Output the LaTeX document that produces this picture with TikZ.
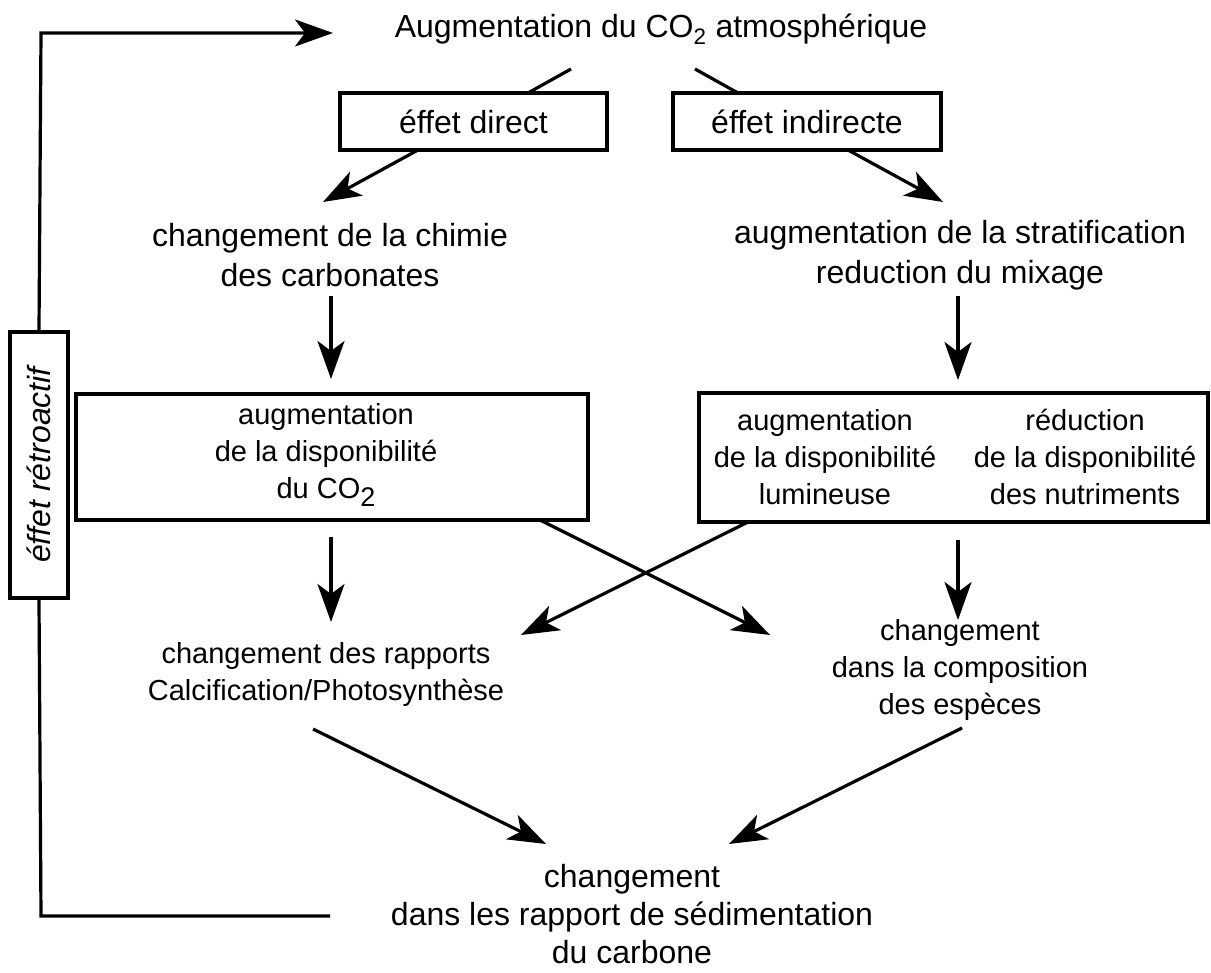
\documentclass[tikz,border=0pt]{standalone}
\usepackage{fontspec}
\setmainfont{Liberation Sans}
\usetikzlibrary{arrows.meta}
\begin{document}
\begin{tikzpicture}[x=1pt,y=-1pt,
  every node/.style={align=center, inner sep=0pt},
  big/.style={font=\fontsize{32}{40}\selectfont},
  bottomtext/.style={font=\fontsize{32}{38}\selectfont},
  small/.style={font=\fontsize{29}{37}\selectfont},
  box/.style={draw, line width=3.2pt},
  conn/.style={line width=3.2pt},
  arr/.style={conn, -{Stealth[length=38pt,width=27pt,inset=10pt]}}
]
\useasboundingbox (0,0) rectangle (1211,973);
% texts
\node[big] (top) at (661,29) {Augmentation du CO\textsubscript{2} atmosphérique};
\node[big, box, minimum width=267pt, minimum height=57pt] (ed) at (473.5,121.5) {éffet direct};
\node[big, box, minimum width=268pt, minimum height=57pt] (ei) at (807,121.5) {éffet indirecte};
\node[big] (chim) at (330,255) {changement de la chimie\\des carbonates};
\node[big] (strat) at (960,255) {augmentation de la stratification\\reduction du mixage};
\node[box, minimum width=512pt, minimum height=126pt] (lb) at (332,457) {};
\node[small] (lbt) at (326,455) {augmentation\\de la disponibilité\\du CO\raisebox{-0.3em}{\fontsize{27}{27}\selectfont 2}};
\node[box, minimum width=509pt, minimum height=129pt] (rbx) at (953.5,457.5) {};
\node[small] (lum) at (825,457) {augmentation\\de la disponibilité\\lumineuse};
\node[small] (nut) at (1085,457) {réduction\\de la disponibilité\\des nutriments};
\node[small] (cal) at (326,675) {changement des rapports\\Calcification/Photosynthèse};
\node[small] (comp) at (960,670) {changement\\dans la composition\\des espèces};
\node[bottomtext] (sed) at (632,914) {changement\\dans les rapport de sédimentation\\du carbone};
\node[big, box, minimum width=266pt, minimum height=58pt, rotate=90] (fb) at (39,465) {\itshape éffet rétroactif};
% coordinates
\coordinate (c1) at (571,69);
\coordinate (c2) at (528,93);
\coordinate (c3) at (695,69);
\coordinate (c4) at (738,93);
\coordinate (d1) at (418,150);
\coordinate (d2) at (323,202);
\coordinate (e1) at (848,150);
\coordinate (e2) at (943,202);
\coordinate (f1) at (331,296);
\coordinate (f2) at (331,379);
\coordinate (g1) at (958,296);
\coordinate (g2) at (958,380);
\coordinate (h1) at (331,537);
\coordinate (h2) at (331,622);
\coordinate (i1) at (958,540);
\coordinate (i2) at (958,620);
\coordinate (x1) at (540,520);
\coordinate (x2) at (770,635);
\coordinate (y1) at (748,522);
\coordinate (y2) at (521,635);
\coordinate (z1) at (313,729);
\coordinate (z2) at (546,844);
\coordinate (w1) at (962,728);
\coordinate (w2) at (729,844);
\coordinate (b1) at (330,916);
\coordinate (b2) at (41,916);
\coordinate (b3) at (41,33);
\coordinate (b4) at (333,33);
% connectors
\draw[conn] (c1) -- (c2);
\draw[conn] (c3) -- (c4);
\draw[arr] (d1) -- (d2);
\draw[arr] (e1) -- (e2);
\draw[arr] (f1) -- (f2);
\draw[arr] (g1) -- (g2);
\draw[arr] (h1) -- (h2);
\draw[arr] (i1) -- (i2);
\draw[arr] (x1) -- (x2);
\draw[arr] (y1) -- (y2);
\draw[arr] (z1) -- (z2);
\draw[arr] (w1) -- (w2);
\draw[conn] (b1) -- (b2) -- (fb.west);
\draw[arr] (fb.east) -- (b3) -- (b4);
\end{tikzpicture}
\end{document}
